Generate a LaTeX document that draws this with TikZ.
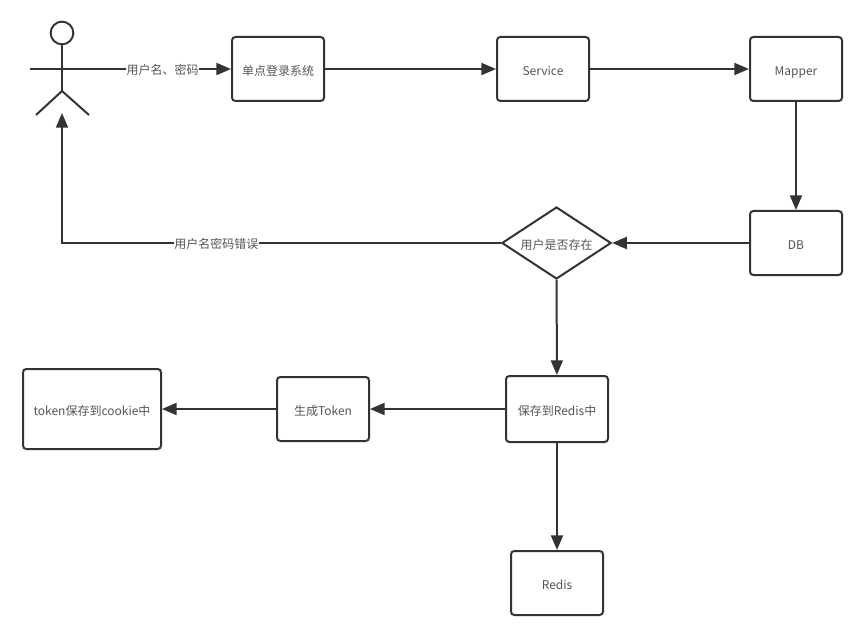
\documentclass[tikz,border=0pt]{standalone}
\usepackage{fontspec}
\setmainfont{Noto Sans CJK SC}
\usetikzlibrary{arrows.meta,shapes.geometric,positioning}
\definecolor{inkline}{HTML}{333333}
\definecolor{inktext}{HTML}{555555}
\tikzset{
	boxnode/.style={draw=inkline,line width=1.5pt,rounded corners=2.5pt,fill=white,text=inktext,font=\fontsize{9}{11}\selectfont,text height=10.6pt,text depth=1pt,minimum width=69pt,minimum height=48pt,inner sep=0pt},
	asknode/.style={diamond,draw=inkline,line width=1.5pt,text=inktext,font=\fontsize{9}{11}\selectfont,text height=10.6pt,text depth=1pt,aspect=1.5,minimum width=82pt,minimum height=54pt,inner sep=0pt},
	flowlabel/.style={fill=white,text=inktext,font=\fontsize{9}{11}\selectfont,text height=9.5pt,text depth=1.5pt,inner sep=0.5pt}
}

\begin{document}
\begin{tikzpicture}[x=0.75pt,y=-0.75pt,>={Triangle[length=11pt,width=9pt]},line width=1.5pt,draw=inkline,inkline]
	\useasboundingbox (0,0) rectangle (864,638);
	% actor
	\node[circle,draw=inkline,line width=1.5pt,minimum size=17pt,inner sep=0pt] (head) at (62,33) {};
	\coordinate (hip) at (62,91);
	\coordinate (arm_l) at (30,69);
	\coordinate (arm_r) at (94,69);
	\coordinate (leg_l) at (36,115);
	\coordinate (leg_r) at (89,115);
	\coordinate (foot) at (62,113);
	\draw (head) -- (hip);
	\draw (arm_l) -- (arm_r);
	\draw (leg_l) -- (hip) -- (leg_r);
	% boxes
	\node[boxnode] (login) at (278,69) {单点登录系统};
	\node[boxnode] (service) at (543,69) {Service};
	\node[boxnode] (mapper) at (796,69) {Mapper};
	\node[boxnode] (db) at (796,243) {DB};
	\node[asknode] (exists) at (556.5,243) {用户是否存在};
	\node[boxnode,minimum width=76.5pt,minimum height=49.5pt] (save) at (557,409) {保存到Redis中};
	\node[boxnode] (token) at (323,409) {生成Token};
	\node[boxnode,minimum width=103.5pt,minimum height=60pt] (cookie) at (92,409) {token保存到cookie中};
	\node[boxnode] (redis) at (557,583) {Redis};
	% arrows
	\path[every edge/.append style={draw=inkline,->}]
		(arm_r) edge node[flowlabel,pos=0.5] {用户名、密码} (login)
		(login) edge (service)
		(service) edge (mapper)
		(mapper) edge (db)
		(db) edge (exists)
		(exists) edge (save)
		(save) edge (token)
		(token) edge (cookie)
		(save) edge (redis);
	\draw[->] (exists) -| node[flowlabel,pos=0.324] {用户名密码错误} (foot);
\end{tikzpicture}
\end{document}
